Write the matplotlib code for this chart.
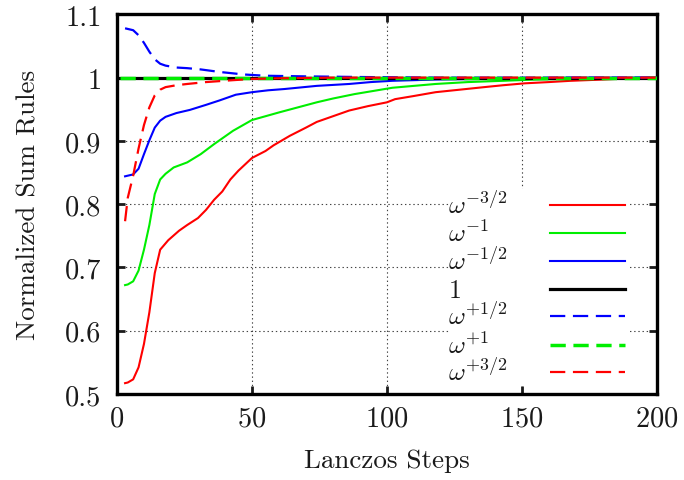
import matplotlib
matplotlib.use("Agg")
import matplotlib.pyplot as plt
from matplotlib.lines import Line2D
from matplotlib.patches import Rectangle

plt.rcParams['font.family'] = 'serif'
plt.rcParams['font.serif'] = ['cmr10']
plt.rcParams['mathtext.fontset'] = 'cm'
plt.rcParams['axes.formatter.use_mathtext'] = True
plt.rcParams['lines.scale_dashes'] = False

# sum rule convergence vs number of Lanczos steps
x_m32 = [3, 4, 6, 8, 10, 12, 14, 16, 19, 23, 26, 30, 33, 36, 39, 42, 45, 50, 55, 58,
         64, 70, 74, 80, 86, 93, 100, 103, 110, 118, 127, 136, 143, 151, 160, 168,
         180, 190, 200]
y_m32 = [0.517, 0.518, 0.523, 0.542, 0.579, 0.629, 0.691, 0.728, 0.743, 0.758, 0.767,
         0.778, 0.791, 0.807, 0.820, 0.839, 0.853, 0.873, 0.884, 0.893, 0.908, 0.921,
         0.930, 0.939, 0.948, 0.955, 0.961, 0.966, 0.971, 0.977, 0.981, 0.985, 0.988,
         0.991, 0.993, 0.995, 0.997, 0.999, 1.0]

x_m1 = [3, 4, 6, 8, 10, 12, 14, 16, 18, 21, 26, 31, 36, 43, 50, 55, 60, 67, 74, 80, 88,
        95, 102, 110, 118, 130, 143, 155, 168, 185, 200]
y_m1 = [0.672, 0.673, 0.678, 0.695, 0.728, 0.767, 0.816, 0.839, 0.848, 0.858, 0.866,
        0.879, 0.895, 0.916, 0.933, 0.939, 0.945, 0.953, 0.961, 0.967, 0.974, 0.979,
        0.984, 0.987, 0.990, 0.993, 0.995, 0.997, 0.998, 0.999, 1.0]

x_m12 = [3, 4, 6, 8, 10, 12, 14, 16, 18, 22, 27, 33, 38, 44, 50, 56, 62, 74, 86, 94,
         102, 118, 135, 150, 170, 200]
y_m12 = [0.844, 0.845, 0.847, 0.856, 0.879, 0.901, 0.921, 0.932, 0.938, 0.944, 0.949,
         0.957, 0.964, 0.973, 0.977, 0.980, 0.982, 0.987, 0.990, 0.993, 0.995, 0.997,
         0.998, 0.999, 1.0, 1.0]

x_0 = [1, 200]
y_0 = [1.0, 1.0]

x_p12 = [3, 4, 6, 8, 10, 12, 14, 16, 18, 22, 26, 31, 38, 47, 55, 70, 90, 120, 200]
y_p12 = [1.078, 1.077, 1.075, 1.067, 1.055, 1.041, 1.029, 1.022, 1.019, 1.016, 1.015,
         1.013, 1.009, 1.005, 1.003, 1.002, 1.001, 1.0, 1.0]

x_p1 = [1, 200]
y_p1 = [1.0, 1.0]

x_p32 = [3, 4, 6, 8, 10, 12, 14, 16, 18, 22, 26, 33, 43, 50, 60, 80, 200]
y_p32 = [0.773, 0.81, 0.845, 0.888, 0.925, 0.953, 0.972, 0.981, 0.985, 0.988, 0.990,
         0.993, 0.996, 0.998, 0.999, 1.0, 1.0]

labels = [r'$\omega^{-3/2}$', r'$\omega^{-1}$', r'$\omega^{-1/2}$', r'$1$',
          r'$\omega^{+1/2}$', r'$\omega^{+1}$', r'$\omega^{+3/2}$']

x_ticks = [0, 50, 100, 150, 200]
y_ticks = [0.5, 0.6, 0.7, 0.8, 0.9, 1.0, 1.1]
y_tick_labels = ['0.5', '0.6', '0.7', '0.8', '0.9', '1', '1.1']

dash = (0, (11, 5.5))
styles = [
    dict(color='#ff0000', lw=1.5, ls='-'),
    dict(color='#00ee00', lw=1.5, ls='-'),
    dict(color='#0000ff', lw=1.5, ls='-'),
    dict(color='black', lw=2.3, ls='-'),
    dict(color='#0000ff', lw=1.6, ls=dash),
    dict(color='#00ee00', lw=2.5, ls=dash),
    dict(color='#ff0000', lw=1.6, ls=dash),
]
series = [(x_m32, y_m32), (x_m1, y_m1), (x_m12, y_m12), (x_0, y_0),
          (x_p12, y_p12), (x_p1, y_p1), (x_p32, y_p32)]

fig = plt.figure(figsize=(6.84, 4.81), dpi=100)
ax = fig.add_axes([0.171, 0.179, 0.7895, 0.789])

for (xs, ys), st in zip(series, styles):
    ax.plot(xs, ys, zorder=3, **st)

ax.set_xlim(0, 200)
ax.set_ylim(0.5, 1.1)
ax.set_xticks(x_ticks)
ax.set_yticks(y_ticks)
ax.set_yticklabels(y_tick_labels)
ax.grid(True, color='#444444', lw=0.8, ls=(0, (1, 2)))
ax.tick_params(direction='in', length=6, width=2, top=True, right=True,
               labelsize=20.5, colors='#1a1a1a')
ax.tick_params(axis='x', pad=8)
ax.tick_params(axis='y', pad=11)
for sp in ax.spines.values():
    sp.set_linewidth(2.4)

ax.set_xlabel('Lanczos Steps', fontsize=19.5, labelpad=12, color='#1a1a1a')
ax.set_ylabel('Normalized Sum Rules', fontsize=19.5, labelpad=18, color='#1a1a1a')

# key drawn gnuplot-style: labels on the left, samples on the right
ax.add_patch(Rectangle((0.615, 0.02), 0.335, 0.52, transform=ax.transAxes,
                       facecolor='white', edgecolor='none', zorder=2))
row_y = [0.498, 0.424, 0.350, 0.277, 0.205, 0.129, 0.058]
for ry, lab, st in zip(row_y, labels, styles):
    ax.text(0.613, ry - 0.021, lab, transform=ax.transAxes, fontsize=18.5,
            ha='left', va='baseline', color='#1a1a1a', zorder=4)
    ax.add_line(Line2D([0.802, 0.941], [ry, ry], transform=ax.transAxes,
                       zorder=4, **st))

fig.savefig('out.png', dpi=100)
